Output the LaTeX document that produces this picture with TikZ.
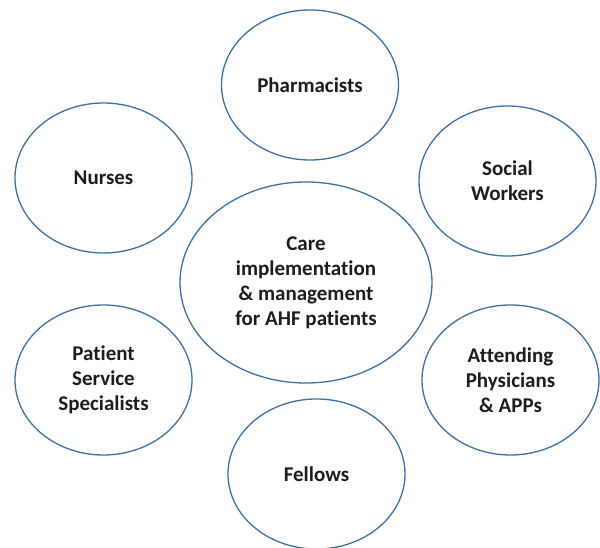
\documentclass[tikz,border=0pt]{standalone}
\usepackage{fontspec}
\setmainfont{Carlito}[Ligatures=CommonOff]
\usetikzlibrary{shapes.geometric}
\definecolor{rimblue}{RGB}{62,112,160}
\definecolor{inkdark}{RGB}{30,28,28}
\begin{document}
\begin{tikzpicture}[x=1pt,y=1pt,
  role/.style={ellipse, draw=rimblue, line width=1.3pt, inner sep=0pt,
    minimum width=177pt, minimum height=150pt, align=center,
    text=inkdark, font=\fontsize{21}{25}\selectfont\bfseries},
  hub/.style={role, minimum width=252pt, minimum height=201pt}]
\useasboundingbox (0,0) rectangle (600,548);
\node[hub]  (care)  at (306,265.5) {Care\\implementation\\\& management\\for AHF patients};
\node[role] (pharm) at (310,463)   {Pharmacists};
\node[role] (nurse) at (103.5,370) {Nurses};
\node[role] (social) at (507.5,367) {Social\\Workers};
\node[role] (pss)   at (103.5,168) {Patient\\Service\\Specialists};
\node[role] (att)   at (510.5,168) {Attending\\Physicians\\\& APPs};
\node[role] (fell)  at (316.5,74)  {Fellows};
\end{tikzpicture}
\end{document}
